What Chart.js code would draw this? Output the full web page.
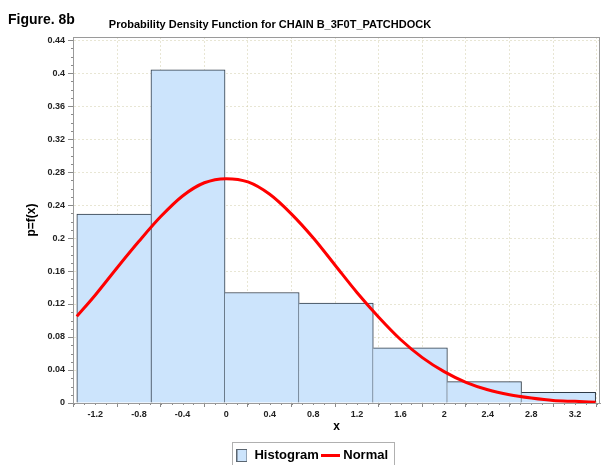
<!DOCTYPE html>
<html>
<head>
<meta charset="utf-8">
<script src="https://cdn.jsdelivr.net/npm/chart.js@4.4.1/dist/chart.umd.min.js"></script>
<style>
  html, body { margin: 0; padding: 0; background: #fff; }
  #wrap { width: 601px; height: 465px; }
</style>
</head>
<body>
<div id="wrap"><canvas id="pdfChart" width="601" height="465"></canvas></div>
<script>
// histogram: bin edges and relative frequency of each bin
const binEdges = [-1.37, -0.69, -0.01, 0.67, 1.35, 2.03, 2.71, 3.39];
const binHeights = [0.229, 0.404, 0.134, 0.121, 0.067, 0.026, 0.013];

// fitted normal curve, sampled along x
const curveX = [-1.37, -1.2, -1.0, -0.8, -0.6, -0.4, -0.2, 0, 0.2, 0.4, 0.6, 0.8,
                1.0, 1.2, 1.4, 1.6, 1.8, 2.0, 2.2, 2.4, 2.6, 2.8, 3.0, 3.2, 3.39];
const curveY = [0.105, 0.131, 0.164, 0.196, 0.226, 0.251, 0.267, 0.272, 0.268, 0.253, 0.229, 0.200,
                0.167, 0.134, 0.104, 0.077, 0.055, 0.038, 0.025, 0.016, 0.010, 0.006, 0.003, 0.002, 0.001];

// axis ticks
const xTicks = [-1.2, -0.8, -0.4, 0, 0.4, 0.8, 1.2, 1.6, 2, 2.4, 2.8, 3.2];
const yTicks = [0, 0.04, 0.08, 0.12, 0.16, 0.2, 0.24, 0.28, 0.32, 0.36, 0.4, 0.44];

const X_MIN = -1.405, X_MAX = 3.43, Y_MAX = 0.4437;

const FONT = "'Liberation Sans', Arial, Helvetica, sans-serif";
const BAR_FILL = "#cce4fc";
const BAR_EDGE = "#2e3a46";

// legend swatches: small box for the histogram, red stroke for the curve
function makeSwatch(w, h, draw) {
    const c = document.createElement("canvas");
    c.width = w; c.height = h;
    draw(c.getContext("2d"));
    return c;
}
const boxSwatch = makeSwatch(11, 13, (g) => {
    g.fillStyle = BAR_FILL;
    g.fillRect(0, 0, 11, 13);
    g.strokeStyle = "#5a6570";
    g.lineWidth = 1;
    g.strokeRect(0.5, 0.5, 10, 12);
});
const lineSwatch = makeSwatch(19, 3, (g) => {
    g.fillStyle = "#ff0000";
    g.fillRect(0, 0, 19, 3);
});

const histData = binHeights.map((h, i) => ({ x: (binEdges[i] + binEdges[i + 1]) / 2, y: h }));
const curveData = curveX.map((x, i) => ({ x, y: curveY[i] }));

// a shared edge between two bins is drawn once, by the taller bin
function binBorder(c) {
    const i = c.dataIndex, h = binHeights;
    const n = h.length;
    return {
        top: 1,
        bottom: 0,
        left: (i === 0 || h[i] >= h[i - 1]) ? 1 : 0,
        right: (i === n - 1 || h[i] > h[i + 1]) ? 1 : 0,
    };
}

const fmt = (v) => String(+v.toFixed(2));

// minor tick marks, frame, headings and legend outline
const decorations = {
    id: "decorations",
    afterDraw(chart) {
        const { ctx, chartArea: a, scales } = chart;
        ctx.save();

        ctx.strokeStyle = "#8a8a8a";
        ctx.lineWidth = 1;
        ctx.beginPath();
        for (let v = 0; v <= Y_MAX; v += 0.01) {
            const y = Math.round(scales.y.getPixelForValue(v)) + 0.5;
            ctx.moveTo(a.left - 2, y);
            ctx.lineTo(a.left, y);
        }
        for (let v = -1.4; v <= X_MAX; v += 0.1) {
            const x = Math.round(scales.x.getPixelForValue(v)) + 0.5;
            ctx.moveTo(x, a.bottom);
            ctx.lineTo(x, a.bottom + 2);
        }
        ctx.stroke();

        ctx.strokeStyle = "#9a9a9a";
        ctx.strokeRect(Math.round(a.left) + 0.5, Math.round(a.top) + 0.5,
                       Math.round(a.right - a.left) - 1, Math.round(a.bottom - a.top));

        ctx.fillStyle = "#000";
        ctx.textBaseline = "middle";
        ctx.textAlign = "left";
        ctx.font = "bold 14px " + FONT;
        ctx.fillText("Figure. 8b", 8, 20);
        ctx.textAlign = "center";
        ctx.font = "bold 11px " + FONT;
        ctx.fillText("Probability Density Function for CHAIN B_3F0T_PATCHDOCK", 270, 25);

        const boxes = chart.legend.legendHitBoxes;
        if (boxes && boxes.length) {
            const first = boxes[0], last = boxes[boxes.length - 1];
            ctx.strokeStyle = "#b0b0b0";
            ctx.strokeRect(Math.round(first.left) - 3.5, Math.round(first.top) - 6.5,
                           Math.round(last.left + last.width - first.left) + 10, 40);
        }
        ctx.restore();
    }
};

new Chart(document.getElementById("pdfChart"), {
    type: "bar",
    data: {
        datasets: [
            {
                type: "bar",
                label: "Histogram",
                data: histData,
                xAxisID: "xBins",
                grouped: false,
                backgroundColor: BAR_FILL,
                borderColor: BAR_EDGE,
                borderWidth: binBorder,
                borderSkipped: false,
                barPercentage: 1,
                categoryPercentage: 1,
                order: 2,
            },
            {
                type: "line",
                label: "Normal",
                data: curveData,
                xAxisID: "x",
                borderColor: "#ff0000",
                borderWidth: 3,
                pointRadius: 0,
                cubicInterpolationMode: "monotone",
                fill: false,
                order: 1,
            },
        ],
    },
    options: {
        responsive: false,
        animation: false,
        layout: { padding: { left: 24, right: 1, top: 37, bottom: -7 } },
        plugins: {
            title: { display: false },
            tooltip: { enabled: false },
            legend: {
                position: "bottom",
                labels: {
                    usePointStyle: true,
                    pointStyleWidth: 12,
                    padding: 6,
                    color: "#000",
                    font: { family: FONT, size: 13, weight: "bold" },
                    generateLabels: (chart) => chart.data.datasets.map((ds, i) => ({
                        text: ds.label,
                        pointStyle: i === 0 ? boxSwatch : lineSwatch,
                        fillStyle: "transparent",
                        strokeStyle: "transparent",
                        lineWidth: 0,
                        hidden: false,
                        datasetIndex: i,
                    })),
                },
            },
        },
        scales: {
            // hidden axis for the bins, ticked at the bin edges so bars span a full bin
            xBins: {
                type: "linear",
                position: "bottom",
                display: false,
                offset: false,
                min: X_MIN,
                max: X_MAX,
                afterBuildTicks: (s) => { s.ticks = binEdges.map((v) => ({ value: v })); },
            },
            x: {
                type: "linear",
                position: "bottom",
                offset: false,
                min: X_MIN,
                max: X_MAX,
                afterBuildTicks: (s) => { s.ticks = xTicks.map((v) => ({ value: v })); },
                afterFit: (s) => { s.height = 40; },
                ticks: {
                    callback: fmt,
                    color: "#222",
                    padding: 2,
                    maxRotation: 0,
                    autoSkip: false,
                    font: { family: FONT, size: 9, weight: "bold" },
                },
                grid: { color: "rgba(205,200,160,0.45)", tickColor: "#8a8a8a", tickLength: 4 },
                border: { display: true, color: "#9a9a9a", dash: [2, 2] },
                title: {
                    display: true,
                    text: "x",
                    color: "#000",
                    padding: { top: 0, bottom: 9 },
                    font: { family: FONT, size: 12, weight: "bold" },
                },
            },
            y: {
                min: 0,
                max: Y_MAX,
                afterBuildTicks: (s) => { s.ticks = yTicks.map((v) => ({ value: v })); },
                afterFit: (s) => { s.width = 49; },
                ticks: {
                    callback: fmt,
                    color: "#222",
                    padding: 3,
                    autoSkip: false,
                    font: { family: FONT, size: 9, weight: "bold" },
                },
                grid: { color: "rgba(205,200,160,0.45)", tickColor: "#8a8a8a", tickLength: 5 },
                border: { display: true, color: "#9a9a9a", dash: [2, 2] },
                title: {
                    display: true,
                    text: "p=f(x)",
                    color: "#000",
                    padding: { top: 0, bottom: 0 },
                    font: { family: FONT, size: 12, weight: "bold" },
                },
            },
        },
    },
    plugins: [decorations],
});
</script>
</body>
</html>
